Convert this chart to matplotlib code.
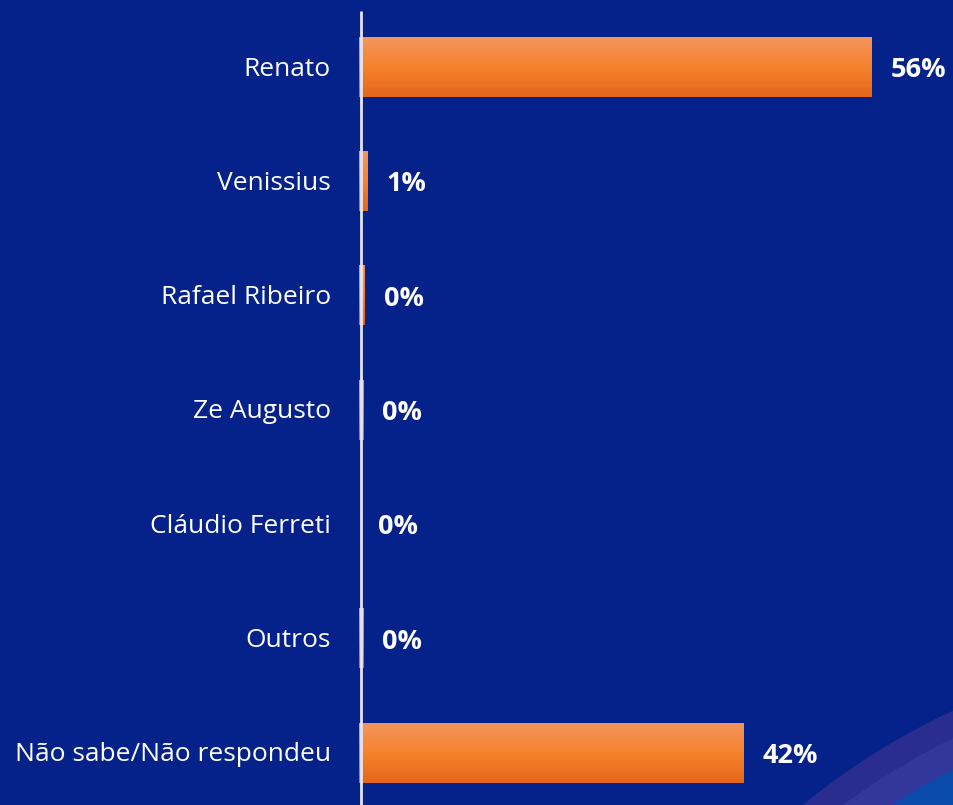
import matplotlib

matplotlib.use("Agg")
import matplotlib.pyplot as plt
import numpy as np
from matplotlib.colors import LinearSegmentedColormap
from matplotlib.patches import Circle
from matplotlib.transforms import IdentityTransform, offset_copy

# data
candidates = [
    "Renato",
    "Venissius",
    "Rafael Ribeiro",
    "Ze Augusto",
    "Cláudio Ferreti",
    "Outros",
    "Não sabe/Não respondeu",
]
values = [56, 0.9, 0.65, 0.45, 0, 0.45, 42]
value_labels = ["56%", "1%", "0%", "0%", "0%", "0%", "42%"]

BG = "#05218a"
plt.rcParams["font.family"] = ["Open Sans", "DejaVu Sans"]

W, H, DPI = 954, 805, 100
fig = plt.figure(figsize=(W / DPI, H / DPI), dpi=DPI, facecolor=BG)

# decorative rings in the bottom-right corner (display pixels)
for r, col in [(705, "#2a2c8f"), (680, "#33379c"), (652, "#0a4aa8")]:
    fig.patches.append(
        Circle((1250, H - 1350), r, transform=IdentityTransform(),
               facecolor=col, edgecolor="none", zorder=0)
    )

ax = fig.add_axes([359 / W, 0, 1 - 359 / W, 1])
ax.patch.set_visible(False)

step = 114.3
top = -67 / step
bottom = (H - 67) / step
xmax = (W - 359) / 915 * 100

grad = LinearSegmentedColormap.from_list(
    "bar", ["#f2955e", "#f7822c", "#e5661a"]
)
g = np.linspace(0, 1, 64).reshape(-1, 1)
bar_h = 0.52
ypos = np.arange(len(candidates))
for y, v in zip(ypos, values):
    if v <= 0:
        continue
    ax.imshow(g, cmap=grad, aspect="auto", interpolation="bilinear",
              extent=[0, v, y + bar_h / 2, y - bar_h / 2], zorder=2)

ax.set_xlim(0, xmax)
ax.set_ylim(bottom, top)

# axis line sits a couple of pixels right of the bar origin
ax.vlines(2 / 915 * 100, -0.49, bottom, color="#e6e6ee", lw=2.0, zorder=3)

val_tr = offset_copy(ax.transData, fig=fig, x=19, y=-3, units="dots")
for y, v, s in zip(ypos, values, value_labels):
    ax.text(v, y, s, transform=val_tr, color="white", fontsize=19.5,
            fontweight="bold", ha="left", va="center")

name_tr = offset_copy(ax.transData, fig=fig, x=-28, y=-2, units="dots")
for y, name in zip(ypos, candidates):
    ax.text(0, y, name, transform=name_tr, color="white", fontsize=19,
            ha="right", va="center")

ax.set_xticks([])
ax.set_yticks([])
for sp in ax.spines.values():
    sp.set_visible(False)

fig.savefig("out.png", dpi=DPI, facecolor=BG)
